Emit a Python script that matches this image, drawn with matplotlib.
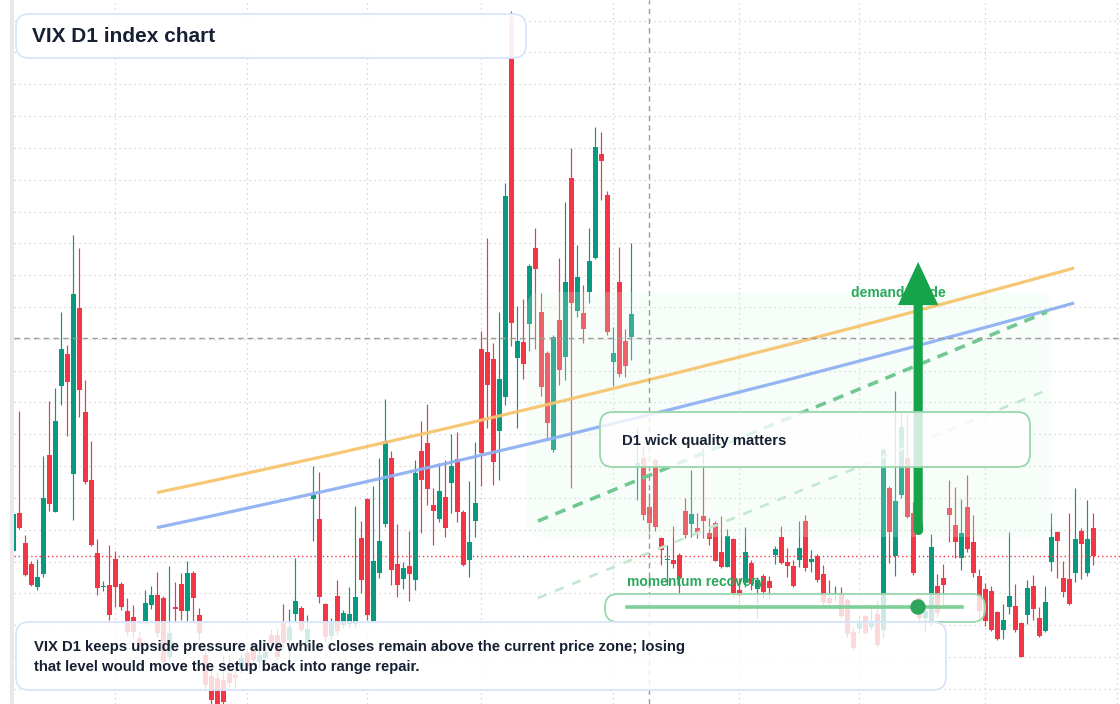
import numpy as np
import matplotlib.pyplot as plt
from matplotlib.patches import FancyBboxPatch, Circle, Rectangle, PathPatch
from matplotlib.path import Path
from matplotlib.lines import Line2D
from matplotlib.transforms import IdentityTransform

W, H = 1120, 704

# daily candles (VIX D1)
opens = [19.65, 21.55, 20.05, 19.0, 17.85, 18.5, 24.45, 21.6, 27.9, 29.5,
         23.5, 31.8, 26.6, 23.2, 19.55, 17.85, 17.95, 19.25, 18.0, 16.65,
         16.35, 15.3, 16.15, 16.95, 17.45, 17.3, 14.35, 16.85, 18.0, 16.65,
         18.55, 16.45, 14.45, 13.4, 13.3, 13.2, 13.55, 13.45, 13.85, 14.55,
         14.7, 14.1, 14.3, 15.45, 15.45, 16.05, 15.2, 16.5, 16.8, 15.05,
         22.25, 21.25, 17.0, 15.4, 17.4, 15.95, 16.0, 16.0, 20.3, 22.25,
         16.15, 18.55, 21.0, 24.3, 19.0, 18.25, 18.9, 18.2, 24.65, 25.05,
         21.95, 21.25, 22.35, 23.05, 24.25, 21.6, 19.2, 21.15, 29.75, 29.6,
         29.25, 25.65, 27.35, 46.35, 29.3, 30.1, 31.0, 34.8, 31.6, 29.55,
         24.7, 31.2, 29.35, 38.3, 31.65, 31.55, 32.6, 34.3, 39.5, 37.45,
         29.1, 33.1, 30.15, 30.35, 23.85, 24.3, 21.85, 24.2, 20.3, 19.2,
         19.2, 19.45, 21.65, 21.0, 20.8, 21.4, 20.55, 21.05, 19.6, 18.85,
         20.25, 17.7, 18.05, 19.05, 17.75, 18.4, 18.15, 19.45, 20.35, 19.1,
         18.9, 19.2, 21.15, 19.1, 19.4, 18.5, 17.3, 17.45, 17.55, 17.2,
         15.6, 15.75, 16.4, 15.85, 16.5, 15.7, 22.8, 19.4, 22.45, 24.3,
         21.55, 17.3, 16.3, 16.1, 17.9, 18.3, 21.8, 20.95, 19.3, 21.85,
         20.1, 18.4, 17.75, 17.65, 16.6, 15.7, 16.85, 16.9, 16.05, 16.45,
         17.9, 16.3, 15.65, 19.1, 20.6, 18.3, 18.25, 18.55, 20.65, 18.55,
         20.8]
highs = [21.6, 26.65, 20.45, 19.15, 19.25, 24.4, 27.15, 27.8, 31.6, 29.95,
         35.45, 34.8, 28.2, 25.15, 20.25, 18.15, 19.95, 19.65, 18.1, 17.3,
         16.95, 15.6, 17.7, 17.9, 18.6, 17.4, 18.9, 18.1, 18.55, 19.15,
         18.65, 16.8, 14.8, 13.7, 13.6, 14.45, 14.45, 13.85, 14.55, 14.8,
         14.95, 14.8, 15.2, 15.75, 15.8, 17.0, 16.75, 19.3, 16.9, 16.45,
         23.9, 23.6, 17.05, 16.3, 18.2, 16.7, 17.85, 21.9, 21.15, 22.3,
         22.9, 24.3, 27.25, 24.65, 21.0, 19.1, 20.65, 24.2, 26.15, 27.0,
         22.8, 24.05, 24.2, 25.5, 25.6, 21.7, 23.15, 25.1, 30.65, 35.3,
         30.05, 31.6, 38.05, 46.65, 31.9, 32.25, 34.0, 35.8, 32.55, 29.65,
         30.45, 34.3, 37.1, 39.8, 34.95, 32.95, 35.8, 40.85, 40.6, 37.65,
         30.85, 34.85, 30.75, 35.05, 25.8, 24.9, 22.55, 24.3, 20.35, 19.95,
         20.9, 19.55, 22.3, 23.7, 21.55, 24.8, 21.3, 21.15, 21.4, 20.75,
         20.3, 18.3, 20.85, 19.2, 18.35, 18.5, 18.4, 19.9, 20.9, 19.8,
         19.2, 21.15, 21.45, 19.7, 19.5, 18.95, 18.2, 17.9, 17.85, 17.3,
         15.85, 16.45, 16.45, 16.9, 17.2, 24.8, 22.9, 27.65, 26.55, 26.5,
         22.1, 17.35, 16.8, 20.5, 18.5, 19.0, 23.2, 22.85, 22.25, 23.45,
         21.45, 18.75, 18.05, 17.9, 16.65, 17.0, 20.6, 18.0, 16.1, 18.2,
         18.45, 16.85, 17.9, 21.55, 20.65, 19.15, 21.55, 22.8, 20.8, 22.2,
         21.55]
lows = [19.6, 20.75, 18.4, 17.9, 17.7, 18.35, 21.65, 21.6, 26.95, 25.4,
        21.2, 26.35, 23.0, 19.9, 17.45, 17.65, 16.2, 16.85, 16.7, 15.4,
        15.3, 14.7, 16.0, 16.75, 15.35, 13.95, 14.2, 16.1, 16.2, 16.15,
        16.1, 15.2, 12.7, 12.0, 11.9, 12.0, 12.85, 12.85, 13.55, 13.7,
        13.95, 13.8, 14.1, 14.85, 14.2, 14.8, 14.05, 16.15, 15.6, 14.85,
        20.15, 17.05, 15.1, 15.2, 15.45, 15.8, 15.85, 15.85, 17.55, 16.2,
        16.1, 18.3, 20.85, 17.95, 17.35, 17.75, 17.15, 17.7, 20.55, 21.95,
        19.95, 21.1, 20.35, 21.55, 21.1, 18.9, 18.35, 20.35, 22.9, 25.8,
        22.95, 23.2, 26.95, 29.9, 25.8, 28.25, 29.65, 29.75, 27.4, 25.3,
        24.6, 27.95, 28.2, 22.8, 31.35, 30.05, 32.05, 34.25, 37.2, 30.45,
        27.9, 28.35, 28.35, 29.2, 22.2, 21.2, 20.6, 20.65, 18.95, 17.95,
        18.8, 17.55, 20.3, 20.35, 20.3, 20.3, 19.95, 19.15, 18.8, 18.85,
        17.35, 16.7, 17.85, 17.7, 16.3, 17.3, 17.25, 19.0, 19.0, 18.35,
        17.85, 18.85, 18.65, 18.6, 18.1, 16.95, 16.75, 17.2, 16.3, 15.35,
        14.75, 15.55, 15.5, 15.7, 14.85, 15.3, 19.05, 18.4, 22.3, 21.3,
        18.45, 16.05, 15.6, 15.95, 16.35, 16.85, 20.1, 19.3, 18.7, 19.6,
        18.35, 16.2, 15.9, 15.65, 15.2, 15.25, 16.5, 15.6, 14.35, 16.0,
        16.2, 15.35, 15.6, 18.65, 18.3, 17.35, 16.95, 18.1, 18.25, 18.4,
        18.95]
closes = [21.5, 20.8, 18.45, 17.95, 18.35, 22.3, 22.0, 26.15, 29.75, 28.1,
          32.5, 27.7, 23.1, 19.95, 17.8, 17.9, 16.45, 17.85, 16.85, 15.6,
          15.6, 14.85, 17.05, 17.45, 15.55, 14.1, 15.55, 16.75, 16.65, 18.55,
          17.3, 15.55, 12.95, 12.2, 12.0, 12.1, 13.05, 13.3, 14.3, 13.9,
          14.2, 14.45, 14.6, 15.05, 14.35, 15.05, 15.85, 17.15, 15.7, 15.75,
          22.45, 17.35, 15.35, 16.1, 15.65, 16.55, 16.5, 17.35, 18.2, 16.45,
          19.15, 20.15, 25.15, 18.7, 17.95, 18.8, 18.5, 23.55, 23.2, 22.75,
          21.65, 22.65, 20.8, 23.9, 21.6, 18.95, 20.1, 22.05, 24.55, 27.95,
          24.1, 28.25, 37.4, 31.05, 30.15, 29.0, 33.9, 33.75, 27.85, 26.05,
          30.35, 28.7, 33.1, 32.05, 33.35, 30.75, 34.15, 39.85, 39.15, 30.6,
          29.55, 28.5, 28.9, 31.5, 24.05, 21.45, 21.05, 20.85, 19.7, 19.25,
          19.0, 18.3, 20.45, 21.5, 20.6, 21.15, 20.25, 19.15, 18.85, 20.4,
          17.55, 17.4, 19.6, 18.0, 18.2, 17.6, 17.8, 19.75, 19.05, 18.9,
          17.9, 19.8, 18.8, 19.25, 18.2, 17.1, 17.05, 17.55, 16.4, 15.5,
          14.8, 16.05, 15.55, 16.1, 14.95, 24.7, 20.6, 22.15, 25.85, 21.35,
          18.55, 16.3, 16.65, 19.85, 16.55, 17.95, 21.45, 20.1, 20.55, 19.75,
          18.55, 16.65, 16.15, 15.7, 15.25, 16.2, 17.4, 15.7, 14.35, 17.8,
          16.75, 15.4, 17.1, 20.35, 20.15, 17.6, 17.0, 20.25, 20.0, 20.25,
          19.4]

# bar index of each month start (vertical grid)
month_starts = [17, 39, 59, 78, 100, 121, 141, 162, 184]
# horizontal grid levels
grid_top, grid_step, grid_count = 46.17, 1.591, 22

# crosshair
cross_idx, cross_price = 105.9, 30.3

# curved guides: start, midpoint on the curve, end  (bar index, price)
orange_guide = [(23.95, 22.57), (100.4, 27.8), (176.8, 33.8)]
blue_guide = [(23.95, 20.82), (100.4, 26.05), (176.8, 32.05)]
# straight dashed guides
dash_idx = [87.44, 172.28]
dash_hi = [21.15, 31.6]
dash_lo = [17.3, 27.7]

# demand zone and arrow
zone_idx = (85.6, 173.1)
zone_px = (20.35, 32.6)
arrow_idx = 150.8
arrow_from, arrow_to = 20.7, 34.1

UP, DOWN = '#089981', '#f23645'
INK = '#172033'
GREEN_TXT = '#2aa85b'

o = np.array(opens)
c = np.array(closes)
hi = np.maximum(np.array(highs), np.maximum(o, c))
lo = np.minimum(np.array(lows), np.minimum(o, c))
x = np.arange(len(o))
col = np.where(c >= o, UP, DOWN)

fig = plt.figure(figsize=(W / 100, H / 100), dpi=100)
plt.rcParams['font.family'] = ['Liberation Sans', 'DejaVu Sans']
ax = fig.add_axes([14 / W, 0, 1 - 14 / W, 1])
ax.set_xlim(0.11, 184.44)
ax.set_ylim(12.0, 47.2)
for s in ax.spines.values():
    s.set_visible(False)

ax.set_xticks(month_starts)
ax.set_yticks(grid_top - grid_step * np.arange(grid_count))
ax.tick_params(length=0, labelleft=False, labelbottom=False)
ax.grid(True, color='#cccccc', linestyle=(0, (1, 3)), lw=0.9, zorder=0)
ax.set_axisbelow(True)

# left strip
fig.add_artist(Rectangle((10 / W, 0), 4 / W, 1, transform=fig.transFigure,
                         color='#e8e8e8', zorder=-1))

# candles
ax.vlines(x, lo, hi, colors=col, lw=0.85, zorder=2)
body = np.maximum(np.abs(c - o), 0.06)
ax.bar(x, body, bottom=np.minimum(o, c), width=0.78, color=col, lw=0, zorder=2)

# demand zone overlay
zone = FancyBboxPatch((zone_idx[0], zone_px[0]), zone_idx[1] - zone_idx[0],
                      zone_px[1] - zone_px[0],
                      boxstyle='round,pad=0,rounding_size=2.5', mutation_aspect=0.3,
                      facecolor='#dcfce7', alpha=0.22, lw=0, zorder=3)
ax.add_patch(zone)


def curve(pts, color):
    p0, m, p2 = (np.array(p) for p in pts)
    ctrl = 2 * m - (p0 + p2) / 2  # quadratic bezier through the midpoint
    path = Path([p0, ctrl, p2], [Path.MOVETO, Path.CURVE3, Path.CURVE3])
    ax.add_patch(PathPatch(path, fill=False, edgecolor=color, lw=2.3, alpha=0.95,
                           capstyle='butt', zorder=4))


curve(orange_guide, '#f6c46d')
curve(blue_guide, '#8fb1f2')
ax.plot(dash_idx, dash_hi, color='#72c892', lw=2.6, linestyle=(0, (3, 2.2)), zorder=4)
ax.plot(dash_idx, dash_lo, color='#c3e8cf', lw=1.9, linestyle=(0, (3.5, 3.5)), zorder=4)

# crosshair + last price
ax.axhline(cross_price, color='#9c9c9c', lw=1.0, linestyle=(0, (4, 3)), zorder=4)
ax.axvline(cross_idx, color='#9c9c9c', lw=1.0, linestyle=(0, (4, 3)), zorder=4)
ax.axhline(closes[-1], color=DOWN, lw=1.0, linestyle=(0, (1, 2)), zorder=4)

# demand guide label and arrow
ax.text(139.6, 32.55, 'demand guide', color=GREEN_TXT, fontsize=10,
        fontweight='bold', va='center', ha='left', zorder=5)
ax.plot([arrow_idx, arrow_idx], [arrow_from, arrow_from + 0.3], color='#16a34a',
        lw=6.6, solid_capstyle='round', zorder=6)
ax.annotate('', xy=(arrow_idx, arrow_to), xytext=(arrow_idx, arrow_from),
            arrowprops=dict(arrowstyle='simple,head_length=1.55,head_width=1.45,tail_width=0.33',
                            mutation_scale=20, color='#16a34a', lw=0,
                            shrinkA=0, shrinkB=0), zorder=6)


def box(x0, y0, x1, y1, edge, alpha, r=13, z=10):
    p = FancyBboxPatch((x0, H - y1), x1 - x0, y1 - y0,
                       boxstyle=f'round,pad=0,rounding_size={r}',
                       transform=IdentityTransform(), facecolor=(1, 1, 1, alpha),
                       edgecolor=edge, lw=1.3, zorder=z)
    fig.add_artist(p)


def label(x0, y0, s, size, color=INK, z=12):
    fig.text(x0 / W, 1 - y0 / H, s, fontsize=size, fontweight='bold', color=color,
             va='center', ha='left', zorder=z)


box(16, 14, 526, 58, '#d8e5fb', 0.93)
label(32, 36, 'VIX D1 index chart', 15)

box(600, 412, 1030, 467, '#98d7ac', 0.8)
label(622, 441, 'D1 wick quality matters', 10.7)

label(627, 582, 'momentum recovery', 10, GREEN_TXT)
box(605, 594, 985, 622, '#98d7ac', 0.8)
fig.add_artist(Line2D([627, 962], [H - 607, H - 607], transform=IdentityTransform(),
                      color='#7fcf9a', lw=2.6, zorder=12))
fig.add_artist(Circle((918, H - 607), 7, transform=IdentityTransform(),
                      color='#2ea55a', zorder=13))

box(16, 622, 946, 690, '#d8e5fb', 0.82)
label(34, 647, 'VIX D1 keeps upside pressure alive while closes remain above the current price zone; losing', 10.7)
label(34, 667, 'that level would move the setup back into range repair.', 10.7)

fig.savefig('out.png', dpi=100)
